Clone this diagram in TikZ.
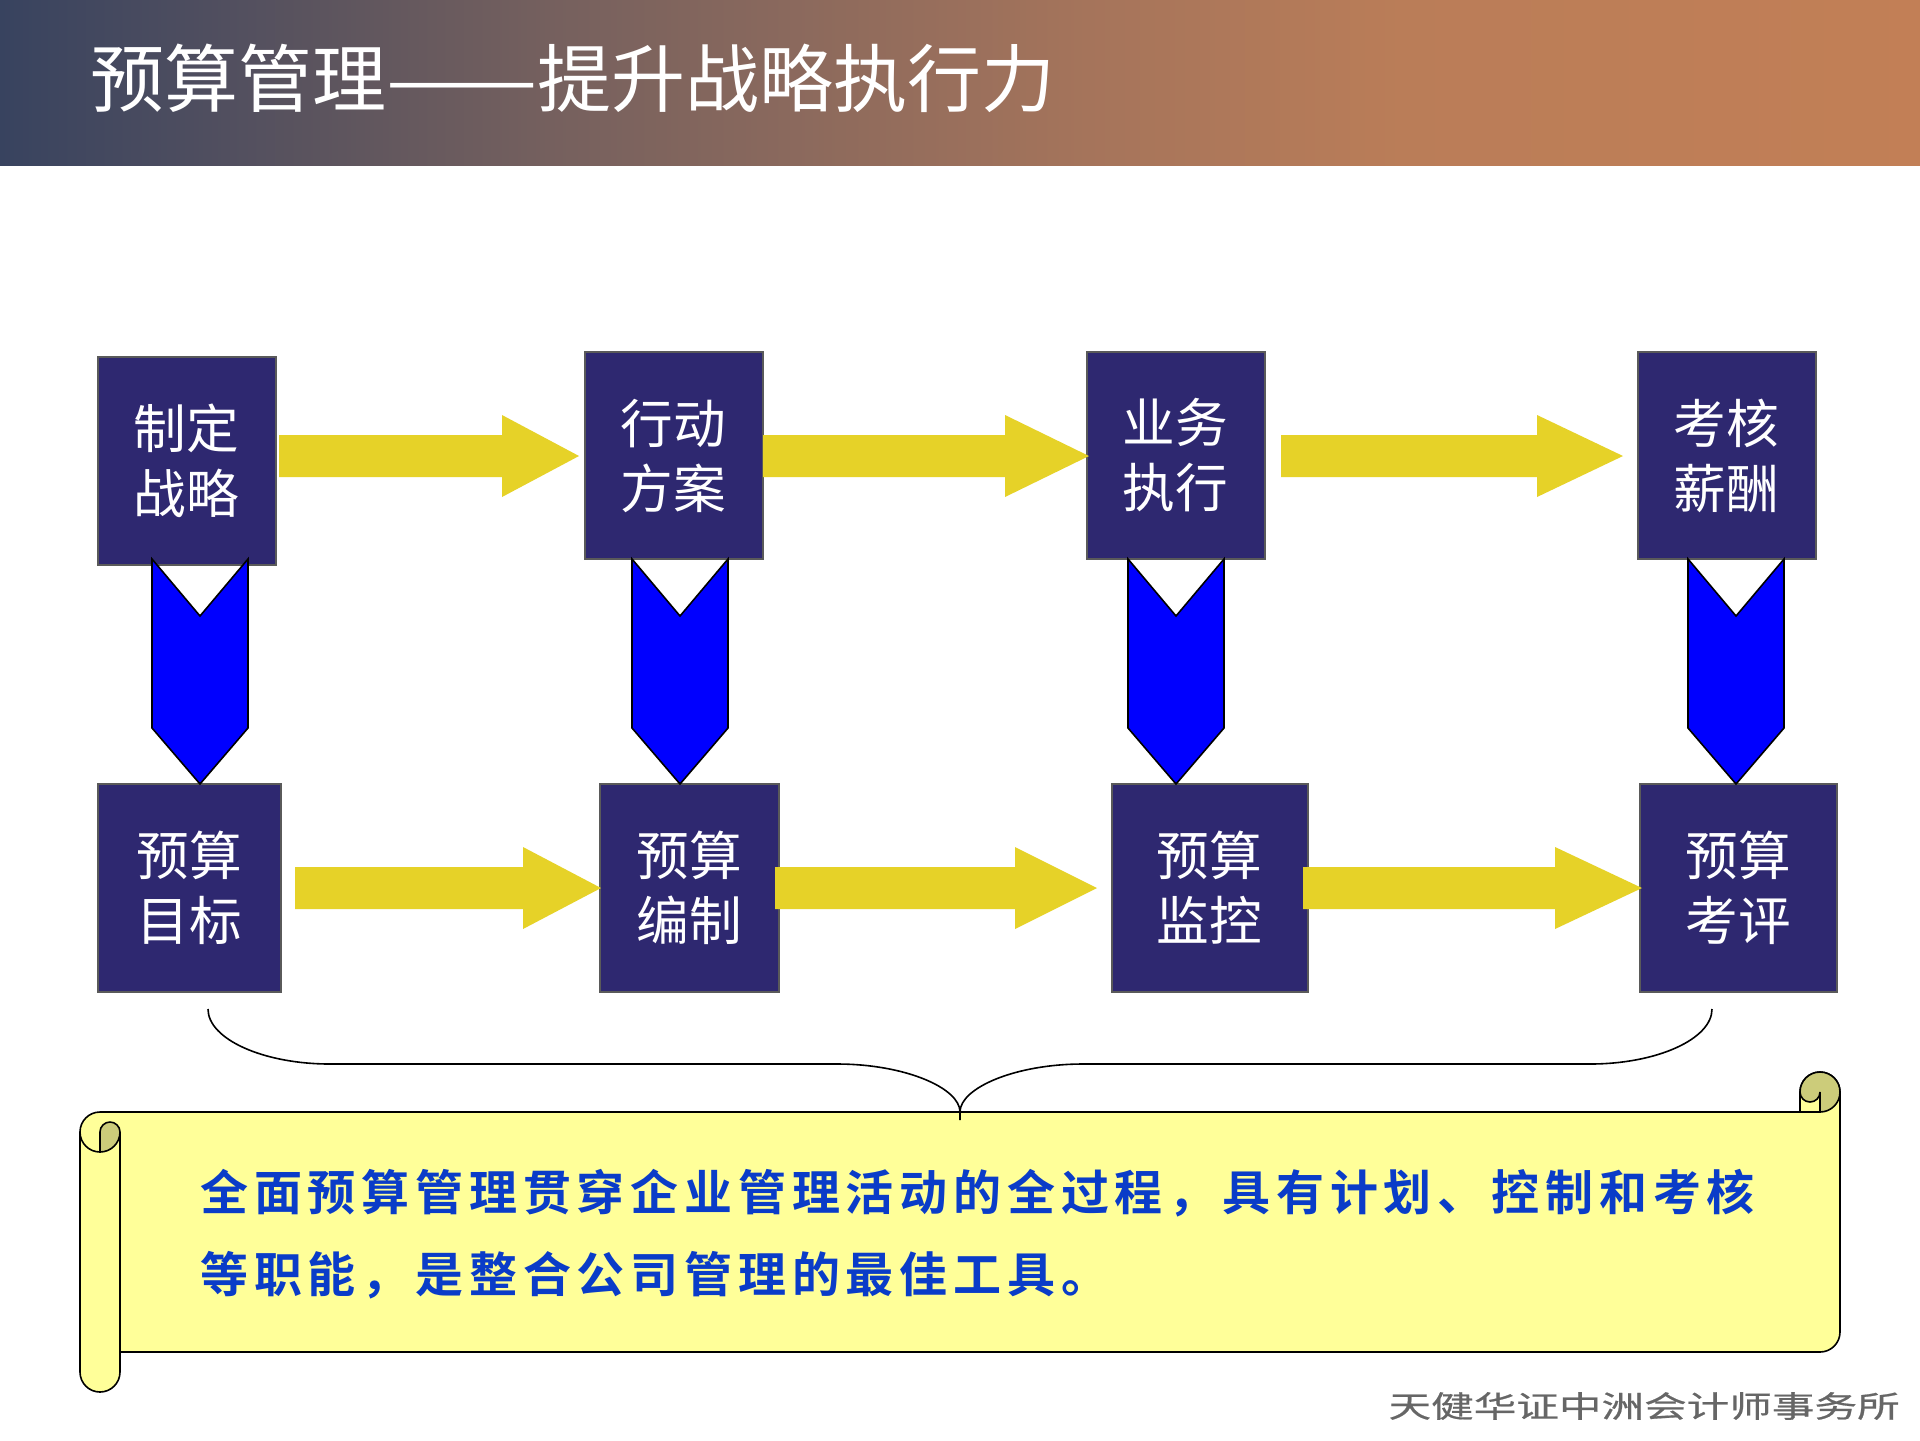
\documentclass[tikz,border=0pt]{standalone}
\usepackage{fontspec}
\setmainfont{Noto Sans CJK SC}
\newfontfamily\cjkplain{Noto Sans CJK SC}
\newfontfamily\cjkspaced[LetterSpace=12.1,BoldFont={Noto Sans CJK SC Bold}]{Noto Sans CJK SC}
\newfontfamily\cjkwide[FakeStretch=1.42,FakeBold=0.6]{Noto Sans CJK SC}
\definecolor{hdrL}{HTML}{38435F}
\definecolor{hdrA}{HTML}{75605E}
\definecolor{hdrB}{HTML}{A5745B}
\definecolor{hdrC}{HTML}{BA7D58}
\definecolor{hdrR}{HTML}{C27F56}
\definecolor{boxfill}{HTML}{2E2870}
\definecolor{boxline}{HTML}{5A5A5A}
\definecolor{arrowyel}{HTML}{E6D228}
\definecolor{scrollfill}{HTML}{FFFF99}
\definecolor{scrollfold}{HTML}{CCCC7A}
\definecolor{scrolltext}{HTML}{0A3CC8}
\definecolor{foot}{HTML}{666666}
\pgfdeclarehorizontalshading{hdrshade}{100bp}{color(0bp)=(hdrL); color(25bp)=(hdrL); color(39.3bp)=(hdrA); color(53.3bp)=(hdrB); color(61.5bp)=(hdrC); color(75bp)=(hdrR); color(100bp)=(hdrR)}
\tikzset{
  stepbox/.style={rectangle,draw=boxline,line width=1.5pt,fill=boxfill,text=white,
    align=center,inner sep=0pt,outer sep=0pt,font=\cjkplain\fontsize{39.5}{48.75}\selectfont},
  yelarrow/.style={fill=arrowyel,draw=none},
  chevron/.style={fill=blue,draw=black,line width=1.2pt,line join=miter},
  scrollline/.style={draw=black,line width=1.2pt},
}
% horizontal block arrow: x start, head base, x tip, y centre
\newcommand{\yelarr}[4]{\fill[yelarrow] (#1,#4-21) -- (#2,#4-21) -- (#2,#4-41) -- (#3,#4) -- (#2,#4+41) -- (#2,#4+21) -- (#1,#4+21) -- cycle;}
% chevron: centre x
\newcommand{\chev}[1]{\draw[chevron] (#1-48,559) -- (#1,616) -- (#1+48,559) -- (#1+48,728) -- (#1,784) -- (#1-48,728) -- cycle;}
\begin{document}
\begin{tikzpicture}[x=0.75pt,y=-0.75pt]
\useasboundingbox (0,0) rectangle (1920,1440);
\fill[white] (0,0) rectangle (1920,1440);
\shade[shading=hdrshade] (0,0) rectangle (1920,165.5);
\node[anchor=west,text=white,inner sep=0pt,font=\cjkplain\fontsize{55.5}{60}\selectfont] (title) at (90,78) {预算管理\scalebox{1.22}[1]{——}提升战略执行力};

% top row
\node[stepbox,minimum width=178pt*0.75,minimum height=208pt*0.75] (a1) at (186.5,461) {制定\\战略};
\node[stepbox,minimum width=178pt*0.75,minimum height=207pt*0.75] (a2) at (673.5,455.5) {行动\\方案};
\node[stepbox,minimum width=178pt*0.75,minimum height=207pt*0.75] (a3) at (1175.5,455.5) {业务\\执行};
\node[stepbox,minimum width=178pt*0.75,minimum height=207pt*0.75] (a4) at (1726.5,455.5) {考核\\薪酬};
% bottom row
\node[stepbox,minimum width=183pt*0.75,minimum height=208pt*0.75] (b1) at (189,887.5) {预算\\目标};
\node[stepbox,minimum width=179pt*0.75,minimum height=208pt*0.75] (b2) at (689,887.5) {预算\\编制};
\node[stepbox,minimum width=196pt*0.75,minimum height=208pt*0.75] (b3) at (1209.5,887.5) {预算\\监控};
\node[stepbox,minimum width=197pt*0.75,minimum height=208pt*0.75] (b4) at (1738.5,887.5) {预算\\考评};

% yellow block arrows
\yelarr{279}{502}{579}{456}
\yelarr{763}{1005}{1089}{456}
\yelarr{1281}{1537}{1623}{456}
\yelarr{295}{523}{601}{888}
\yelarr{775}{1015}{1097}{888}
\yelarr{1303}{1555}{1642}{888}

% blue chevrons
\chev{200}
\chev{680}
\chev{1176}
\chev{1736}

% scroll
\path[fill=scrollfill,scrollline] (80,1132) arc (180:90:15pt) -- (1800,1112) -- (1800,1092) arc (180:0:15pt) -- (1840,1332) arc (0:-90:15pt) -- (120,1352) -- (120,1372) arc (0:-180:15pt) -- cycle;
\path[fill=scrollfold,scrollline] (1800,1092) arc (180:0:15pt) arc (0:-90:15pt) -- (1820,1092) arc (0:-180:7.5pt) -- cycle;
\draw[scrollline] (1800,1112) -- (1820,1112);
\path[fill=scrollfold,scrollline] (100,1152) -- (100,1132) arc (180:0:7.5pt) arc (0:-90:15pt) -- cycle;
\draw[scrollline] (80,1132) arc (180:270:15pt);
\draw[scrollline] (120,1132) -- (120,1352);

% brace
\draw[scrollline] (208,1009) .. controls (208,1039) and (263,1064) .. (330,1064) -- (837,1064) .. controls (905,1064) and (960,1088) .. (960,1112) -- (960,1120);
\draw[scrollline] (1712,1009) .. controls (1712,1039) and (1657,1064) .. (1590,1064) -- (1083,1064) .. controls (1015,1064) and (960,1088) .. (960,1112);

\node[anchor=north west,align=left,text=scrolltext,inner sep=0pt,font=\cjkspaced\bfseries\fontsize{36}{61.5}\selectfont] (body) at (200,1169) {全面预算管理贯穿企业管理活动的全过程，具有计划、控制和考核\\等职能，是整合公司管理的最佳工具。};

\node[anchor=east,text=foot,inner sep=0pt,font=\cjkwide\fontsize{22.5}{24}\selectfont] (footer) at (1900,1406) {天健华证中洲会计师事务所};
\end{tikzpicture}
\end{document}
